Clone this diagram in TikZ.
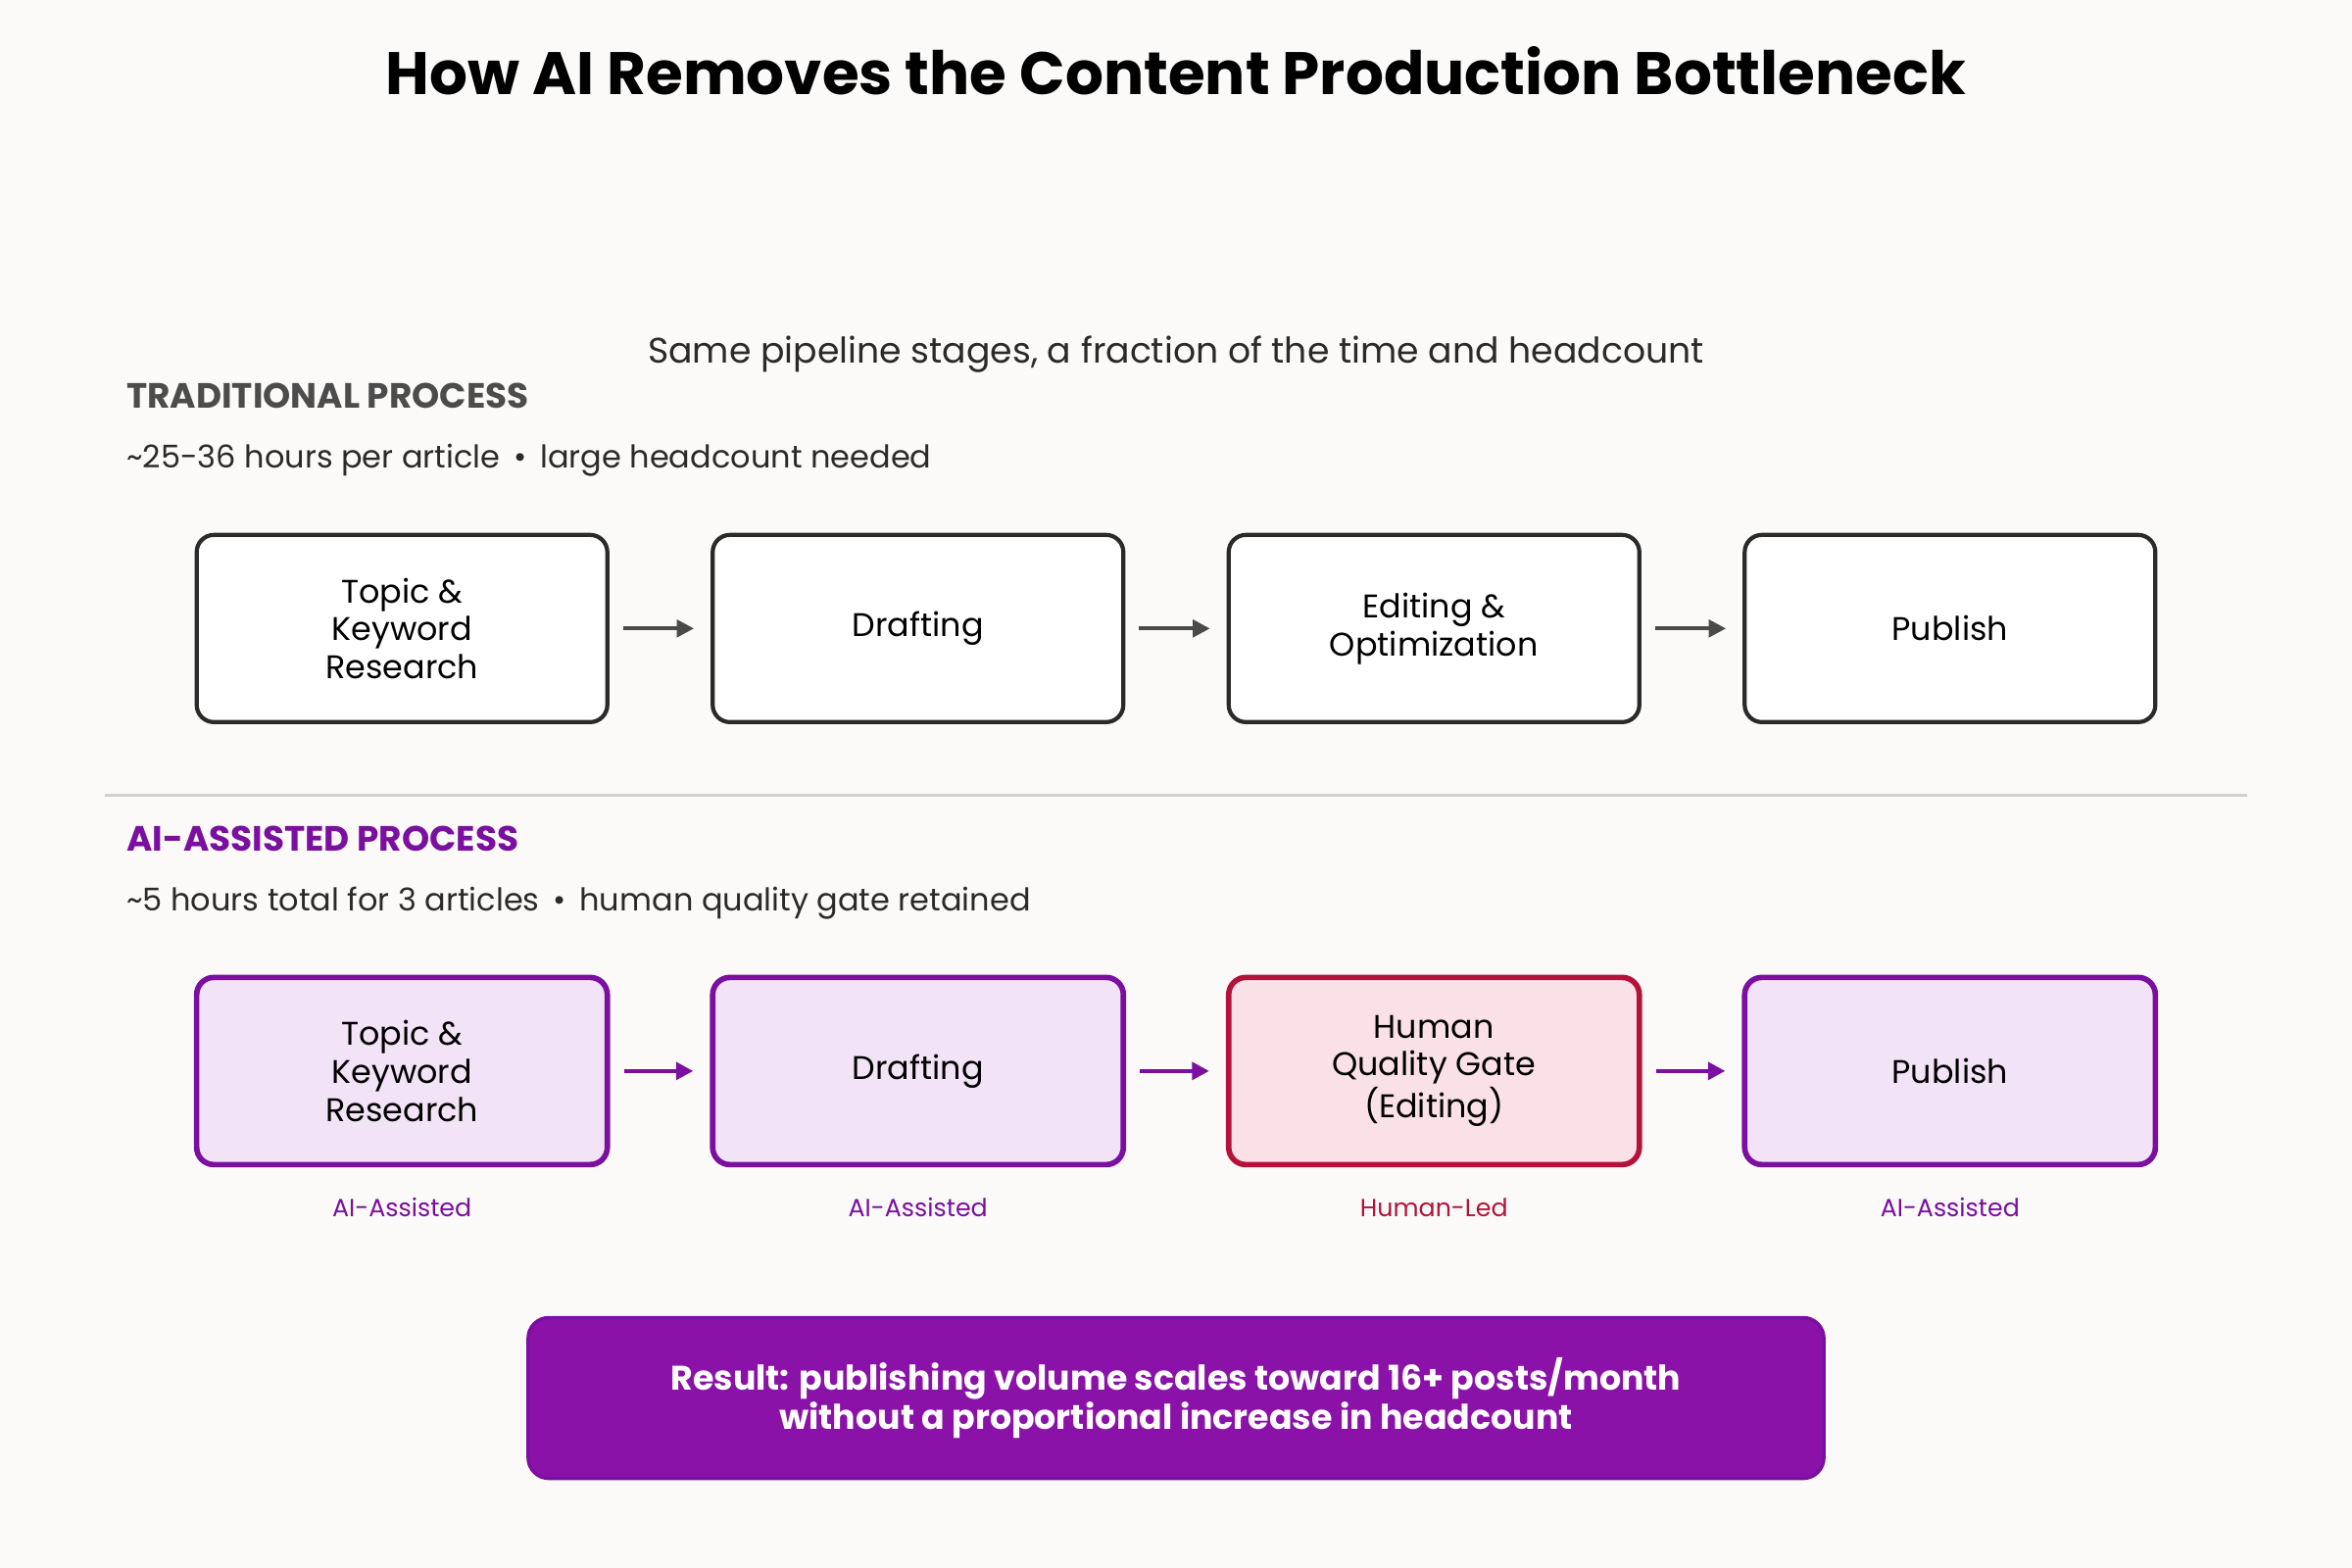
\documentclass[tikz,border=0pt]{standalone}
\usepackage{fontspec}
\setmainfont{Poppins}
\usetikzlibrary{arrows.meta}
\definecolor{bg}{HTML}{FBFAF8}
\definecolor{pur}{HTML}{7A0FA0}
\definecolor{purfill}{HTML}{F2E3F6}
\definecolor{redb}{HTML}{B5123A}
\definecolor{redfill}{HTML}{FAE1E8}
\definecolor{res}{HTML}{8B12A8}
\definecolor{dark}{HTML}{2A2A2A}
\begin{document}
\begin{tikzpicture}[x=0.015306cm,y=-0.015306cm,
  tbox/.style={draw=dark,line width=1.2pt,fill=white,rounded corners=5pt,minimum width=4.19cm,minimum height=1.91cm,align=center,font=\fontsize{9.5}{11}\selectfont},
  abox/.style={tbox,draw=pur,fill=purfill,line width=1.6pt},
  hbox/.style={tbox,draw=redb,fill=redfill,line width=1.6pt},
  tarr/.style={-{Triangle[length=5pt,width=5pt]},line width=1.1pt,draw=dark!85},
  aarr/.style={-{Triangle[length=5pt,width=5pt]},line width=1.3pt,draw=pur},
  sub/.style={font=\fontsize{7.2}{9}\selectfont,anchor=center}]
\fill[bg] (0,0) rectangle (1568,1045);
\node[font=\fontsize{17.4}{20}\selectfont\bfseries] (title) at (784,47) {How AI Removes the Content Production Bottleneck};
\node[font=\fontsize{10.3}{12}\selectfont,text=dark] (subt) at (784,236) {Same pipeline stages, a fraction of the time and headcount};
\node[anchor=west,inner sep=0pt,font=\fontsize{10.2}{11}\selectfont\bfseries,text=black!70] (th) at (84,264) {TRADITIONAL PROCESS};
\node[anchor=west,inner sep=0pt,font=\fontsize{9.1}{11}\selectfont,text=dark] (td) at (84,307) {\textasciitilde25-36 hours per article \,\textbullet\, large headcount needed};
\node[tbox] (t1) at (268,419) {Topic \&\\Keyword\\Research};
\node[tbox] (t2) at (612,419) {Drafting};
\node[tbox] (t3) at (956,419) {Editing \&\\Optimization};
\node[tbox] (t4) at (1300,419) {Publish};
\foreach \a/\b in {t1/t2,t2/t3,t3/t4} \draw[tarr] ([xshift=0.14cm]\a.east) -- ([xshift=-0.17cm]\b.west);
\draw[black!18,line width=0.8pt] (70,530) -- (1498,530);
\node[anchor=west,inner sep=0pt,font=\fontsize{10.2}{11}\selectfont\bfseries,text=pur] (ah) at (84,559) {AI-ASSISTED PROCESS};
\node[anchor=west,inner sep=0pt,font=\fontsize{9.1}{11}\selectfont,text=dark] (ad) at (84,602) {\textasciitilde5 hours total for 3 articles \,\textbullet\, human quality gate retained};
\node[abox] (a1) at (268,714) {Topic \&\\Keyword\\Research};
\node[abox] (a2) at (612,714) {Drafting};
\node[hbox] (a3) at (956,714) {Human\\Quality Gate\\(Editing)};
\node[abox] (a4) at (1300,714) {Publish};
\foreach \a/\b in {a1/a2,a2/a3,a3/a4} \draw[aarr] ([xshift=0.14cm]\a.east) -- ([xshift=-0.17cm]\b.west);
\node[sub,text=pur] (l1) at (268,805) {AI-Assisted};
\node[sub,text=pur] (l2) at (612,805) {AI-Assisted};
\node[sub,text=redb] (l3) at (956,805) {Human-Led};
\node[sub,text=pur] (l4) at (1300,805) {AI-Assisted};
\node[draw=pur,fill=res,line width=1pt,rounded corners=6pt,minimum width=13.22cm,minimum height=1.64cm,align=center,text=white,font=\fontsize{9.9}{11.2}\selectfont\bfseries] (result) at (784,932) {Result: publishing volume scales toward 16+ posts/month\\without a proportional increase in headcount};
\end{tikzpicture}
\end{document}
